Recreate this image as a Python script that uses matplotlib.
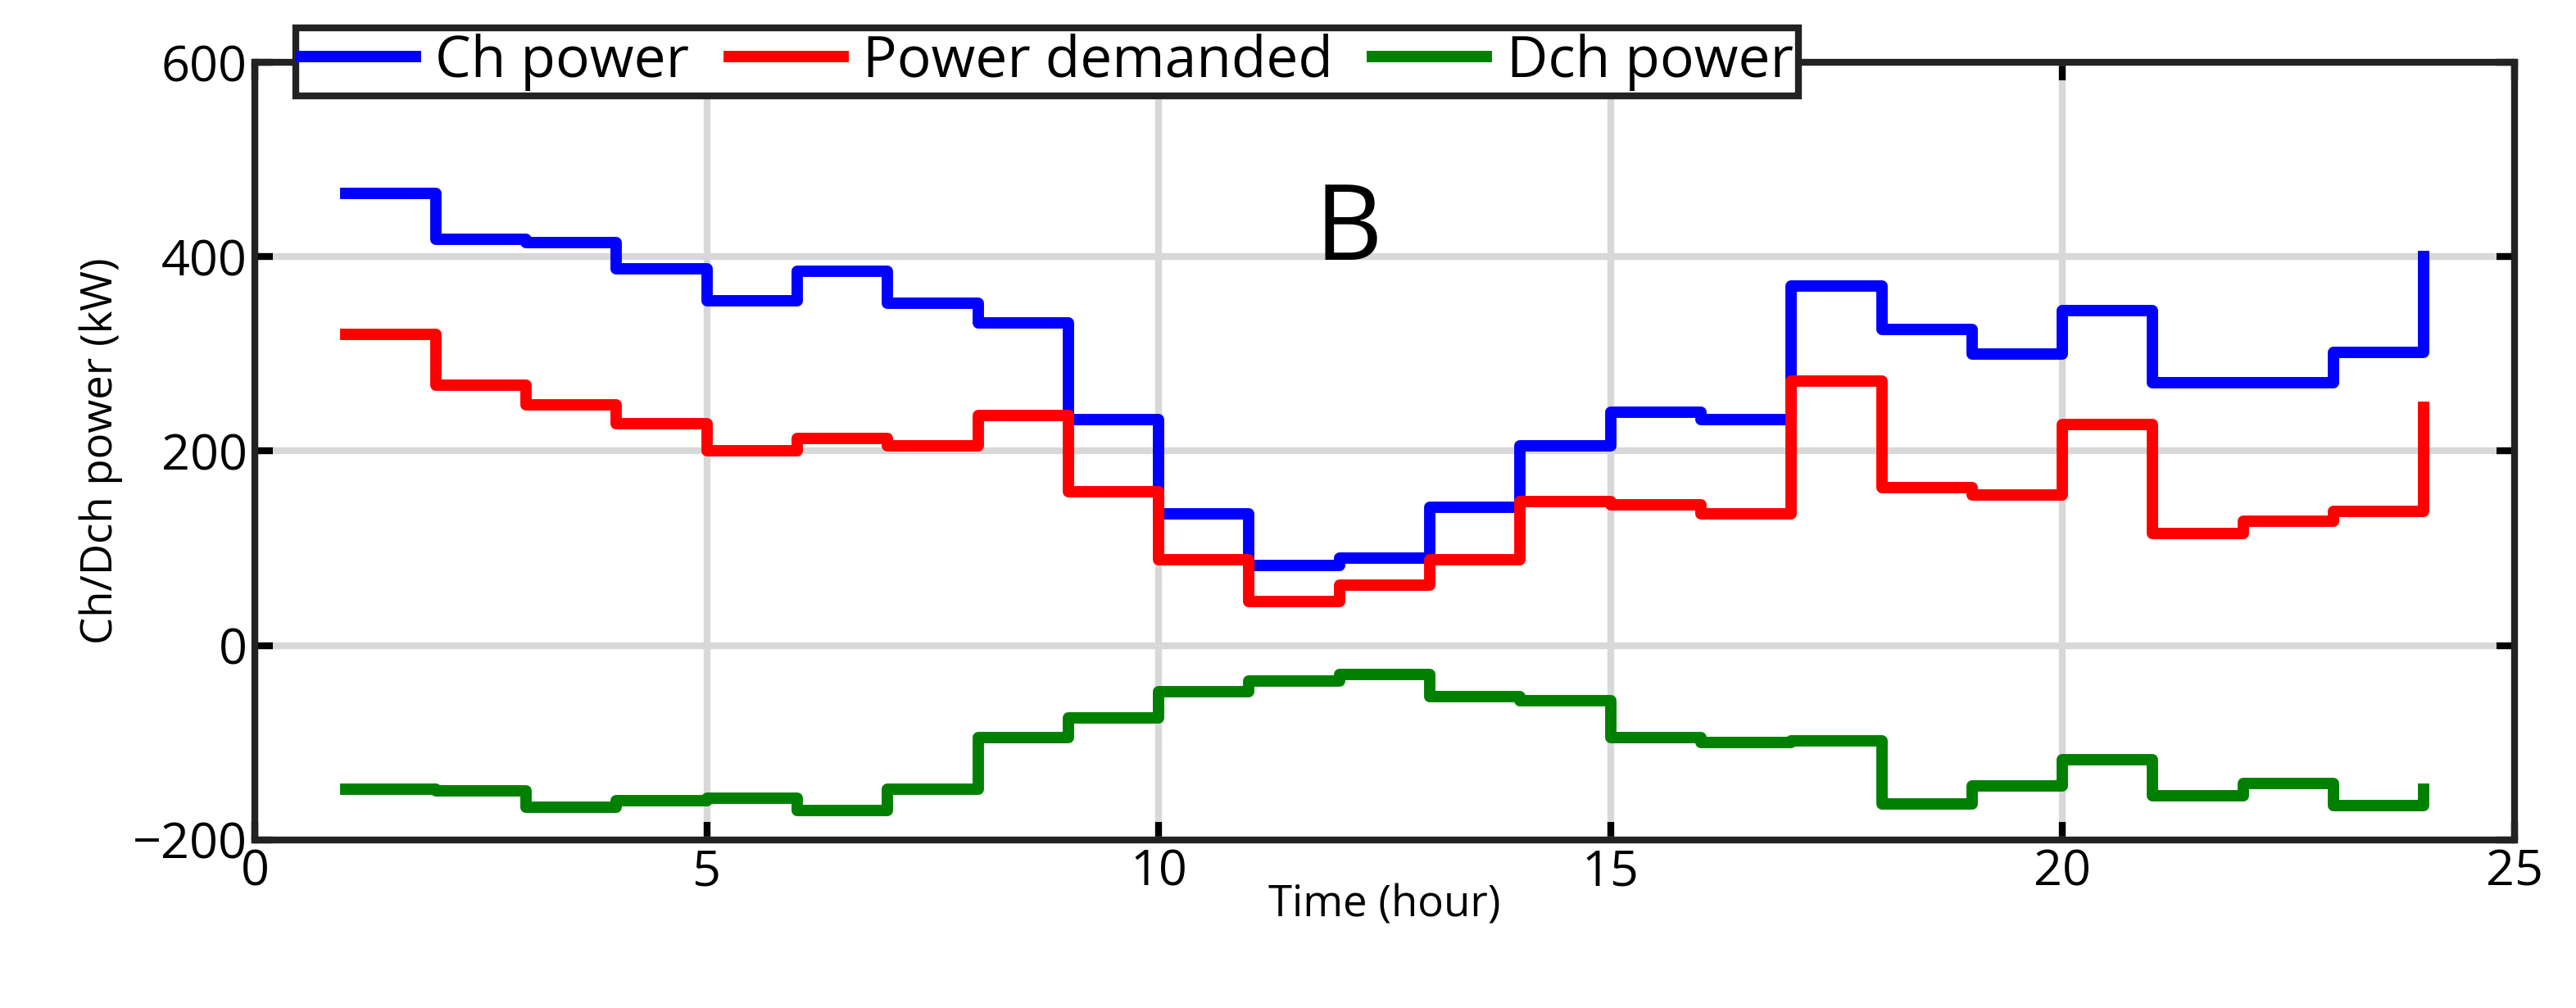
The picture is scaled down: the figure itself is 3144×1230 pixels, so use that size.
import matplotlib
matplotlib.use('Agg')
import matplotlib.pyplot as plt
import numpy as np

plt.rcParams['font.family'] = ['Open Sans', 'DejaVu Sans']

hours = np.arange(1, 25)
ch_power = [465, 418, 415, 388, 355, 385, 352, 332, 232, 135, 82, 90,
            142, 205, 240, 232, 370, 325, 300, 345, 270, 270, 302, 400]
power_demanded = [320, 268, 248, 228, 200, 213, 205, 237, 158, 88, 45, 62,
                  88, 148, 145, 135, 272, 162, 155, 227, 115, 128, 138, 245]
dch_power = [-148, -150, -167, -160, -157, -170, -148, -95, -75, -48, -37, -30,
             -53, -57, -95, -100, -98, -163, -145, -118, -155, -142, -165, -148]

fig = plt.figure(figsize=(15.72, 6.15), dpi=200)
ax = fig.add_axes([0.099, 0.167, 0.877, 0.771])

ax.plot(hours, ch_power, drawstyle='steps-post', color='#0000ff', lw=5, label='Ch power')
ax.plot(hours, power_demanded, drawstyle='steps-post', color='#ff0000', lw=5, label='Power demanded')
ax.plot(hours, dch_power, drawstyle='steps-post', color='#008000', lw=5, label='Dch power')

ax.set_xlim(0, 25)
ax.set_ylim(-200, 600)
ax.set_xticks([0, 5, 10, 15, 20, 25])
ax.set_yticks([-200, 0, 200, 400, 600])
ax.set_yticklabels(['\u2212200', '0', '200', '400', '600'])
ax.grid(True, color='#d8d8d8', lw=3)
ax.set_axisbelow(True)
for s in ax.spines.values():
    s.set_linewidth(3)
    s.set_color('#222222')
ax.tick_params(labelsize=22, width=3, length=8, direction='in', top=True, right=True)
ax.set_xlabel('Time (hour)', fontsize=19, labelpad=-6)
ax.set_ylabel('Ch/Dch power (kW)', fontsize=19, labelpad=4)

ax.text(12.1, 425, 'B', fontsize=46, ha='center', va='center')

leg = ax.legend(loc='upper left', bbox_to_anchor=(0.018, 1.045), ncol=3, fontsize=25,
                frameon=True, fancybox=False, edgecolor='#222222', handlelength=2.0,
                columnspacing=0.7, handletextpad=0.35, borderpad=0.1, framealpha=1,
                borderaxespad=0)
leg.get_frame().set_linewidth(3)

fig.savefig('out.png', dpi=200)
